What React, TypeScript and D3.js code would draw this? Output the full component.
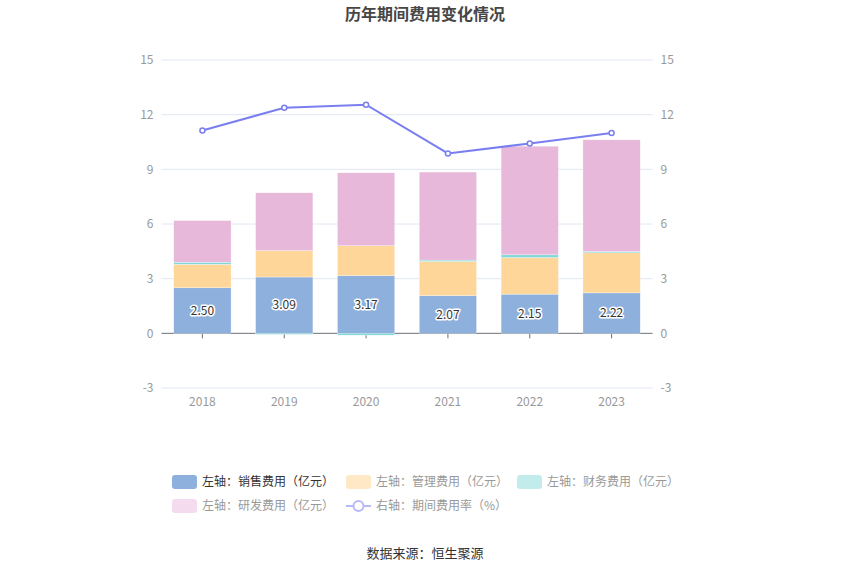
import { useRef, useEffect } from 'react';
import * as d3 from 'd3';

// Chart data (亿元 / %)
const years = ['2018', '2019', '2020', '2021', '2022', '2023'];
const salesExp = [2.50, 3.09, 3.17, 2.07, 2.15, 2.22];
const mgmtExp = [1.29, 1.45, 1.64, 1.88, 2.01, 2.20];
const financeExp = [0.11, -0.06, -0.10, 0.07, 0.15, 0.07];
const rdExp = [2.29, 3.17, 4.00, 4.83, 5.96, 6.13];
const expenseRate = [11.13, 12.38, 12.55, 9.87, 10.42, 10.99];
const yTicks = [-3, 0, 3, 6, 9, 12, 15];

const seriesKeys = ['sales', 'mgmt', 'finance', 'rd'] as const;
const seriesColors: Record<string, string> = {
  sales: '#8eb0dc',
  mgmt: '#ffd699',
  finance: '#80d8da',
  rd: '#e7b8d9',
};

const WIDTH = 850;
const HEIGHT = 575;
const FONT = '"Noto Sans CJK SC", "Noto Sans", sans-serif';

export default function App() {
  const svgRef = useRef<SVGSVGElement>(null);

  useEffect(() => {
    if (!svgRef.current) return;
    const svg = d3.select(svgRef.current);
    svg.selectAll('*').remove();

    const left = 161.5;
    const right = 652.5;
    const top = 60;
    const bottom = 388;

    const x = d3.scaleBand<string>()
      .domain(years)
      .range([left, right])
      .paddingInner(0.3)
      .paddingOuter(0.15);

    const y = d3.scaleLinear().domain([-3, 15]).range([bottom, top]);
    const yRight = d3.scaleLinear().domain([-3, 15]).range([bottom, top]);

    // grid lines
    svg.append('g')
      .selectAll('line')
      .data(yTicks.filter(t => t !== 0))
      .enter().append('line')
      .attr('x1', left)
      .attr('x2', right)
      .attr('y1', d => y(d))
      .attr('y2', d => y(d))
      .attr('stroke', '#e0e6f1')
      .attr('stroke-width', 1);

    // left axis labels
    svg.append('g')
      .selectAll('text')
      .data(yTicks)
      .enter().append('text')
      .attr('x', left - 8)
      .attr('y', d => y(d))
      .attr('dy', '0.35em')
      .attr('text-anchor', 'end')
      .attr('font-size', 12)
      .attr('fill', '#999')
      .attr('font-family', FONT)
      .text(d => d);

    // right axis labels
    svg.append('g')
      .selectAll('text')
      .data(yTicks)
      .enter().append('text')
      .attr('x', right + 8)
      .attr('y', d => yRight(d))
      .attr('dy', '0.35em')
      .attr('text-anchor', 'start')
      .attr('font-size', 12)
      .attr('fill', '#999')
      .attr('font-family', FONT)
      .text(d => d);

    // x axis line and ticks (under the bars so negative slivers show)
    svg.append('line')
      .attr('x1', left)
      .attr('x2', right)
      .attr('y1', y(0))
      .attr('y2', y(0))
      .attr('stroke', '#6e7079')
      .attr('stroke-width', 1);

    svg.append('g')
      .selectAll('line')
      .data(years)
      .enter().append('line')
      .attr('x1', d => (x(d) as number) + x.bandwidth() / 2)
      .attr('x2', d => (x(d) as number) + x.bandwidth() / 2)
      .attr('y1', y(0))
      .attr('y2', y(0) + 5)
      .attr('stroke', '#6e7079');

    svg.append('g')
      .selectAll('text')
      .data(years)
      .enter().append('text')
      .attr('x', d => (x(d) as number) + x.bandwidth() / 2)
      .attr('y', bottom + 18)
      .attr('text-anchor', 'middle')
      .attr('font-size', 12)
      .attr('fill', '#999')
      .attr('font-family', FONT)
      .text(d => d);

    // stacked bars
    const table = years.map((yr, i) => ({
      year: yr,
      sales: salesExp[i],
      mgmt: mgmtExp[i],
      finance: financeExp[i],
      rd: rdExp[i],
    }));

    const stack = d3.stack<typeof table[number]>()
      .keys(seriesKeys as unknown as string[])
      .offset(d3.stackOffsetDiverging);
    const stacked = stack(table);

    svg.append('g')
      .selectAll('g')
      .data(stacked)
      .enter().append('g')
      .attr('fill', d => seriesColors[d.key])
      .selectAll('rect')
      .data(d => d)
      .enter().append('rect')
      .attr('x', d => x(d.data.year) as number)
      .attr('width', x.bandwidth())
      .attr('y', d => y(Math.max(d[0], d[1])))
      .attr('height', d => Math.abs(y(d[0]) - y(d[1])))
      .attr('stroke', 'rgba(255,255,255,0.6)')
      .attr('stroke-width', 0.5);

    // sales value labels
    svg.append('g')
      .selectAll('text')
      .data(table)
      .enter().append('text')
      .attr('x', d => (x(d.year) as number) + x.bandwidth() / 2)
      .attr('y', d => y(d.sales / 2))
      .attr('dy', '0.35em')
      .attr('text-anchor', 'middle')
      .attr('font-size', 12)
      .attr('font-family', FONT)
      .attr('fill', '#333')
      .attr('stroke', '#fff')
      .attr('stroke-width', 3)
      .attr('stroke-linejoin', 'round')
      .attr('paint-order', 'stroke')
      .text(d => d.sales.toFixed(2));

    // expense rate line
    const cx = (yr: string) => (x(yr) as number) + x.bandwidth() / 2;
    const line = d3.line<number>()
      .x((_, i) => cx(years[i]))
      .y(d => yRight(d));

    svg.append('path')
      .datum(expenseRate)
      .attr('d', line)
      .attr('fill', 'none')
      .attr('stroke', '#7a7ff0')
      .attr('stroke-width', 2);

    svg.append('g')
      .selectAll('circle')
      .data(expenseRate)
      .enter().append('circle')
      .attr('cx', (_, i) => cx(years[i]))
      .attr('cy', d => yRight(d))
      .attr('r', 2.5)
      .attr('fill', '#fff')
      .attr('stroke', '#7a7ff0')
      .attr('stroke-width', 1.5);

    // title
    svg.append('text')
      .attr('x', WIDTH / 2)
      .attr('y', 20)
      .attr('text-anchor', 'middle')
      .attr('font-size', 16)
      .attr('font-weight', 'bold')
      .attr('fill', '#464646')
      .attr('font-family', FONT)
      .text('历年期间费用变化情况');

    // legend
    const legendItems = [
      { label: '左轴：销售费用（亿元）', color: '#8eb0dc', text: '#333', x: 172, row: 0, type: 'rect' },
      { label: '左轴：管理费用（亿元）', color: '#ffe8c6', text: '#999', x: 346, row: 0, type: 'rect' },
      { label: '左轴：财务费用（亿元）', color: '#c2ecec', text: '#999', x: 517, row: 0, type: 'rect' },
      { label: '左轴：研发费用（亿元）', color: '#f4dcee', text: '#999', x: 172, row: 1, type: 'rect' },
      { label: '右轴：期间费用率（%）', color: '#b7b9f8', text: '#999', x: 346, row: 1, type: 'line' },
    ];

    const legend = svg.append('g');
    legendItems.forEach(item => {
      const cy = 482 + item.row * 24;
      const g = legend.append('g');
      if (item.type === 'rect') {
        g.append('rect')
          .attr('x', item.x)
          .attr('y', cy - 7)
          .attr('width', 25)
          .attr('height', 14)
          .attr('rx', 3)
          .attr('fill', item.color);
      } else {
        g.append('line')
          .attr('x1', item.x)
          .attr('x2', item.x + 25)
          .attr('y1', cy)
          .attr('y2', cy)
          .attr('stroke', item.color)
          .attr('stroke-width', 2);
        g.append('circle')
          .attr('cx', item.x + 12.5)
          .attr('cy', cy)
          .attr('r', 5)
          .attr('fill', '#fff')
          .attr('stroke', item.color)
          .attr('stroke-width', 2);
      }
      g.append('text')
        .attr('x', item.x + 30)
        .attr('y', cy)
        .attr('dy', '0.35em')
        .attr('font-size', 12)
        .attr('fill', item.text)
        .attr('font-family', FONT)
        .text(item.label);
    });

    // source
    svg.append('text')
      .attr('x', WIDTH / 2)
      .attr('y', 553)
      .attr('dy', '0.35em')
      .attr('text-anchor', 'middle')
      .attr('font-size', 13)
      .attr('fill', '#333')
      .attr('font-family', FONT)
      .text('数据来源：恒生聚源');
  }, []);

  return (
    <svg
      ref={svgRef}
      width={WIDTH}
      height={HEIGHT}
      style={{ position: 'fixed', left: 0, top: 0, background: '#fff' }}
    />
  );
}
